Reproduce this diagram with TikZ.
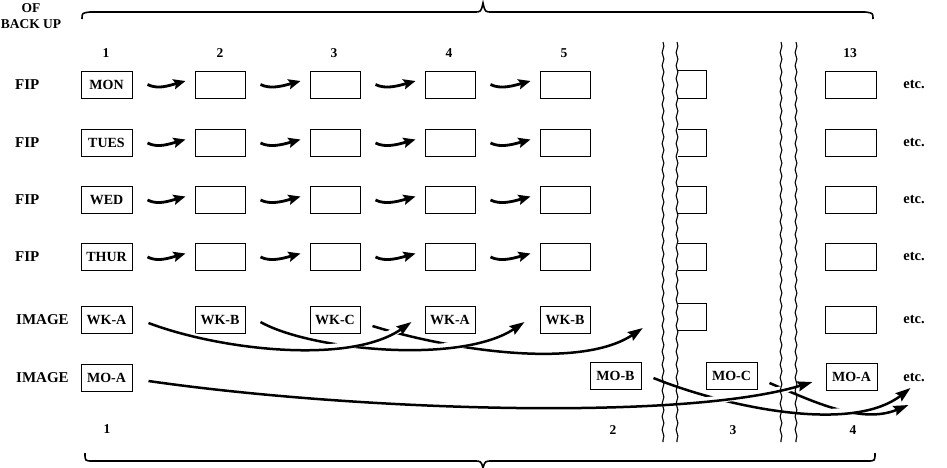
\documentclass[tikz,border=0pt]{standalone}
\usepackage{fontspec}
\setmainfont{Liberation Serif}
\usetikzlibrary{arrows.meta,decorations.pathmorphing,calc}
\begin{document}
\begin{tikzpicture}[x=1pt,y=-1pt,
  box/.style={draw, line width=1pt, minimum width=50pt, minimum height=27pt, inner sep=0pt, font=\bfseries\fontsize{14}{14}\selectfont},
  lbl/.style={font=\bfseries\fontsize{15}{15}\selectfont, anchor=west, inner sep=0pt},
  num/.style={font=\bfseries\fontsize{13.5}{16}\selectfont, inner sep=0pt},
  etcl/.style={font=\bfseries\fontsize{14.5}{15}\selectfont, inner sep=0pt},
  small/.style={line width=2.8pt, -{Stealth[length=12pt,width=10pt,inset=2pt]}},
  big/.style={line width=2.5pt, -{Stealth[length=15pt,width=10pt,inset=2pt]}, preaction={draw=white,line width=7pt,arrows=-}},
  wavy/.style={line width=1.1pt, decorate, decoration={snake, amplitude=0.9pt, segment length=13pt}},
  bracel/.style={line width=1.6pt},
  open/.style={line width=1pt}
]
\useasboundingbox (0,0) rectangle (947,467);

% braces
\draw[bracel] (82,19) .. controls (82,13) .. (90,12) -- (474,12) .. controls (481,12) .. (483,3) .. controls (485,12) .. (492,12) -- (865,12) .. controls (873,13) .. (873,19);
\draw[bracel] (85,453) .. controls (85,461) .. (93,461) -- (474,461) .. controls (481,461) .. (483,468) .. controls (485,461) .. (492,461) -- (867,461) .. controls (875,461) .. (875,453);

\node[num, align=center] (title) at (31,16) {OF\\BACK UP};

% column numbers
\node[num] (n1) at (106,53) {1};
\node[num] (n2) at (220,53) {2};
\node[num] (n3) at (334,53) {3};
\node[num] (n4) at (449,53) {4};
\node[num] (n5) at (564,53) {5};
\node[num] (n13) at (850,53) {13};

% bottom numbers
\node[num] (m1n) at (107,429) {1};
\node[num] (m2n) at (613,430) {2};
\node[num] (m3n) at (733,430) {3};
\node[num] (m4n) at (853,430) {4};

% FIP rows
\foreach \r/\y/\t in {1/84.5/MON,2/143/TUES,3/200/WED,4/257/THUR} {
  \node[lbl] (l\r) at (15,\y) {FIP};
  \node[box, minimum width=51pt] (b\r-1) at (106.5,\y) {\t};
  \node[box] (b\r-2) at (220,\y) {};
  \node[box] (b\r-3) at (335,\y) {};
  \node[box] (b\r-4) at (450,\y) {};
  \node[box] (b\r-5) at (565,\y) {};
  \node[minimum width=28pt, minimum height=27pt, inner sep=0pt] (p\r) at (692,\y) {};
  \draw[open] (p\r.north west) -- (p\r.north east) -- (p\r.south east) -- (p\r.south west);
  \node[box, minimum width=51pt] (b\r-13) at (850.5,\y) {};
  \node[etcl] (e\r) at (914,\y) {etc.};
  \foreach \c/\d in {1/2,2/3,3/4,4/5}
    \draw[small] ($(b\r-\c.east)+(15,0)$) .. controls +(10,5) and +(-18,5) .. ($(b\r-\d.west)+(-9,-3.5)$);
}

% IMAGE WK row
\node[lbl] (l5) at (16,320) {IMAGE};
\node[box, minimum width=51pt] (w1) at (106.5,320) {WK-A};
\node[box] (w2) at (220,320) {WK-B};
\node[box] (w3) at (335,320) {WK-C};
\node[box] (w4) at (450,320) {WK-A};
\node[box] (w5) at (565,320) {WK-B};
\node[minimum width=28pt, minimum height=27pt, inner sep=0pt] (p5) at (692,317) {};
\draw[open] (p5.north west) -- (p5.north east) -- (p5.south east) -- (p5.south west);
\node[box, minimum width=51pt] (w13) at (850.5,320) {};
\node[etcl] (e5) at (914,320) {etc.};

% IMAGE MO row
\node[lbl] (l6) at (16,378) {IMAGE};
\node[box, minimum width=51pt] (m1) at (106.5,378) {MO-A};
\node[box, minimum width=51pt] (m2) at (615.5,376) {MO-B};
\node[box, minimum width=51pt] (m3) at (731.5,376) {MO-C};
\node[box, minimum width=51pt] (m4) at (851.5,377) {MO-A};
\node[etcl] (e6) at (914,378) {etc.};

% long arrows (later ones pass over earlier ones)
\draw[big] ($(w3.east)+(12,6)$) .. controls (450,350) and (580,370) .. ($(p5.west)+(-35,11)$);
\draw[big] ($(w2.east)+(15,2)$) .. controls (310,350) and (460,365) .. ($(w5.west)+(-15,2)$);
\draw[big] ($(w1.east)+(16,3)$) .. controls (220,350) and (350,365) .. ($(w4.west)+(-13,2)$);
\draw[big] ($(m3.east)+(12,7)$) .. controls (810,400) and (860,425) .. ($(m4.east)+(31,28)$);
\draw[big] ($(m2.east)+(12,2)$) .. controls (720,405) and (850,435) .. ($(m4.east)+(33,11)$);
\draw[big] ($(m1.east)+(16,3)$) .. controls (350,410) and (680,422) .. ($(m4.west)+(-13,5)$);

% wavy break lines
\draw[wavy] (663,42) -- (663,442);
\draw[wavy] (677,42) -- (677,442);
\draw[wavy] (781,42) -- (781,442);
\draw[wavy] (796,42) -- (796,442);
\end{tikzpicture}
\end{document}
